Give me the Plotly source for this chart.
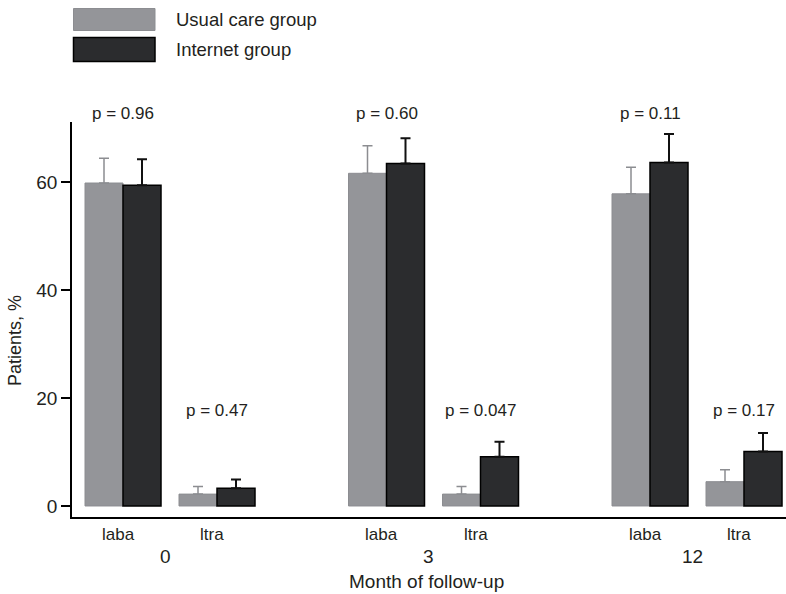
import plotly.graph_objects as go

# Data: percentage of patients by month of follow-up and medication
months = ["0", "3", "12"]
drugs = ["laba", "ltra"]
usual_care = [59.8, 2.2, 61.6, 2.2, 57.8, 4.5]
usual_care_err = [4.6, 1.4, 5.1, 1.4, 4.9, 2.2]
internet = [59.4, 3.3, 63.4, 9.1, 63.6, 10.1]
internet_err = [4.8, 1.6, 4.7, 2.8, 5.3, 3.4]
p_values = ["0.96", "0.47", "0.60", "0.047", "0.11", "0.17"]

# Layout geometry (x axis in pixel-like units)
W, H = 786, 594
ML, MR, MT, MB = 72, 0, 122, 77
BAR_W = 38
FIRST = 51
GROUP_STEP = 263.5
DRUG_STEP = 94
Y_RANGE = [-2.04, 71.1]

centers = [FIRST + g * GROUP_STEP + d * DRUG_STEP
           for g in range(len(months)) for d in range(len(drugs))]
group_centers = [FIRST + g * GROUP_STEP + DRUG_STEP / 2 for g in range(len(months))]

GREY = "#949599"
DARK = "#2b2c2e"
FONT = "Liberation Sans, Arial, sans-serif"
TXT = "#231f20"

plot_w = W - ML - MR
plot_h = H - MT - MB


def px_x(px):
    return (px - ML) / plot_w


def px_y(py):
    return (H - MB - py) / plot_h


def val_to_paper(v):
    return (v - Y_RANGE[0]) / (Y_RANGE[1] - Y_RANGE[0])


fig = go.Figure()
fig.add_trace(go.Bar(
    x=centers, y=usual_care, width=BAR_W, offset=-BAR_W,
    name="Usual care group",
    marker=dict(color=GREY, line=dict(color="#8c8d91", width=1)),
    error_y=dict(type="data", symmetric=False, array=usual_care_err,
                 arrayminus=[0] * len(usual_care_err),
                 color="#8c8d91", thickness=1.5, width=5),
))
fig.add_trace(go.Bar(
    x=centers, y=internet, width=BAR_W, offset=0,
    name="Internet group",
    marker=dict(color=DARK, line=dict(color="#000000", width=1.5)),
    error_y=dict(type="data", symmetric=False, array=internet_err,
                 arrayminus=[0] * len(internet_err),
                 color="#111111", thickness=2, width=5),
))

annotations = []
# p-value labels: laba comparisons sit above the plot, ltra ones at 17.6 %
for i, (xc, p) in enumerate(zip(centers, p_values)):
    ypos = px_y(113) if i % 2 == 0 else val_to_paper(17.6)
    annotations.append(dict(x=xc, y=ypos, xref="x", yref="paper",
                            text=f"p = {p}", showarrow=False,
                            font=dict(size=17, color=TXT),
                            xanchor="center", yanchor="middle"))
# medication labels under each pair of bars
for i, xc in enumerate(centers):
    annotations.append(dict(x=xc, y=0, xref="x", yref="paper",
                            text=drugs[i % len(drugs)], showarrow=False,
                            font=dict(size=17, color=TXT), xshift=-5,
                            yshift=-17.5, xanchor="center", yanchor="middle"))
# month labels
for gc, m in zip(group_centers, months):
    annotations.append(dict(x=gc, y=0, xref="x", yref="paper", text=m,
                            showarrow=False, font=dict(size=19, color=TXT),
                            xshift=-5, yshift=-39.5,
                            xanchor="center", yanchor="middle"))
# axis titles
annotations.append(dict(x=0.497, y=0, xref="paper", yref="paper",
                        text="Month of follow-up", showarrow=False,
                        font=dict(size=19, color=TXT), yshift=-64,
                        xanchor="center", yanchor="middle"))
annotations.append(dict(x=0, y=px_y(341), xref="paper", yref="paper",
                        text="Patients, %", textangle=-90, showarrow=False,
                        font=dict(size=18, color=TXT), xshift=-57,
                        xanchor="center", yanchor="middle"))

# custom legend drawn above the plot
shapes = [
    dict(type="rect", xref="paper", yref="paper",
         x0=px_x(73.5), x1=px_x(155), y0=px_y(30.5), y1=px_y(8.5),
         fillcolor=GREY, line=dict(color="#8c8d91", width=1)),
    dict(type="rect", xref="paper", yref="paper",
         x0=px_x(73.5), x1=px_x(155), y0=px_y(61.5), y1=px_y(37.5),
         fillcolor=DARK, line=dict(color="#000000", width=1.5)),
]
annotations.append(dict(x=px_x(174), y=px_y(20), xref="paper", yref="paper",
                        text="Usual care group", showarrow=False,
                        font=dict(size=18.5, color=TXT),
                        xanchor="left", yanchor="middle"))
annotations.append(dict(x=px_x(174), y=px_y(49.5), xref="paper", yref="paper",
                        text="Internet group", showarrow=False,
                        font=dict(size=18.5, color=TXT),
                        xanchor="left", yanchor="middle"))

fig.update_layout(
    width=W, height=H,
    margin=dict(l=ML, r=MR, t=MT, b=MB),
    barmode="overlay",
    showlegend=False,
    plot_bgcolor="white", paper_bgcolor="white",
    font=dict(family=FONT, color=TXT),
    annotations=annotations,
    shapes=shapes,
    xaxis=dict(range=[0, plot_w], showgrid=False, zeroline=False,
               showticklabels=False, ticks="", showline=True,
               linecolor="#000000", linewidth=1.5, fixedrange=True),
    yaxis=dict(range=Y_RANGE, tickvals=[0, 20, 40, 60],
               showgrid=False, zeroline=False, showline=True,
               linecolor="#000000", linewidth=1.5, ticks="outside",
               ticklen=9, tickwidth=1.5, tickcolor="#000000",
               tickfont=dict(size=19, color=TXT), fixedrange=True),
)

fig.write_html("out.html")
